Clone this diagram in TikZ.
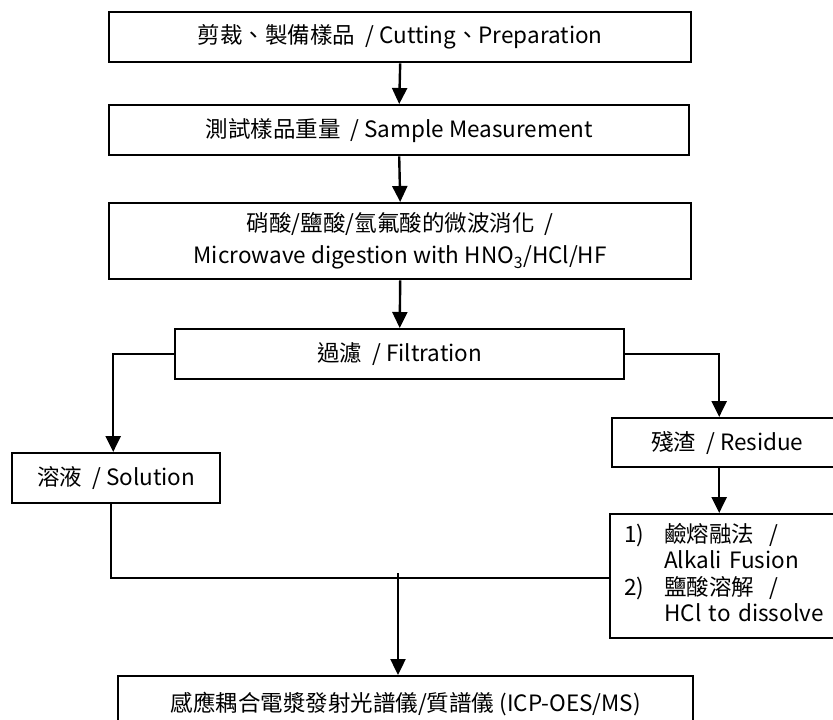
\documentclass[tikz,border=0pt]{standalone}
\usepackage{fontspec}
\setmainfont{Noto Sans CJK TC}
\usetikzlibrary{arrows.meta}
\tikzset{
    every picture/.style={
        line width=2.4pt
    },
    % Style for the process boxes
    procbox/.style={
        draw, rectangle, inner sep=0pt, anchor=north west,
        align=center, font=\fontsize{22.5}{32}\selectfont
    },
    flow arrow/.style={-{Triangle[length=16pt,width=15pt]}}
}

\begin{document}
\begin{tikzpicture}[x=1pt,y=-1pt]

% Set the canvas size
\path[use as bounding box] (0,0) rectangle (833,720);
\clip (0,0) rectangle (833,720);

% Main column of boxes
\node[procbox, minimum width=582, minimum height=50] (cut) at (108,11)
    {剪裁、製備樣品\ \ / Cutting、Preparation};
\node[procbox, minimum width=580, minimum height=50] (meas) at (108,104)
    {測試樣品重量\ \ / Sample Measurement};
\node[procbox, minimum width=582, minimum height=76] (digest) at (108,202)
    {硝酸/鹽酸/氫氟酸的微波消化\ \ /\\Microwave digestion with HNO\textsubscript{3}/HCl/HF};
\node[procbox, minimum width=449, minimum height=50] (filt) at (174,328)
    {過濾\ \ / Filtration};

% Branches after filtration
\node[procbox, minimum width=208, minimum height=50] (sol) at (11,452)
    {溶液\ \ / Solution};
\node[procbox, minimum width=240, minimum height=49] (res) at (611,417)
    {\hspace{-10pt}殘渣\ \ / Residue};
\node[procbox, minimum height=124, align=left, inner xsep=14pt,
      text width=212pt, font=\fontsize{22.5}{26.3}\selectfont] (meth) at (609,513)
    {\begin{tabular}{@{}l@{\hspace{20pt}}l@{}}
     1) & 鹼熔融法\ \ / \\
        & Alkali Fusion \\
     2) & 鹽酸溶解\ \ / \\
        & HCl to dissolve
     \end{tabular}};

% Final instrument box
\node[procbox, minimum width=575, minimum height=56] (icp) at (117,675)
    {感應耦合電漿發射光譜儀/質譜儀\ (ICP-OES/MS)};

% Draw all connectors
\draw[flow arrow] (cut.south) -- (meas.north);
\draw[flow arrow] (meas.south) -- (digest.north);
\draw[flow arrow] (digest.south) -- (filt.north);
\draw[flow arrow] (filt.west) -| ([xshift=-3pt]sol.north);
\draw[flow arrow] (filt.east) -| ([xshift=-13pt]res.north);
\draw[flow arrow] ([xshift=-13pt]res.south) -- ([xshift=-11pt]meth.north);
\draw ([xshift=-5pt]sol.south) |- ([yshift=-2pt]meth.west);
\coordinate (join) at (398,573);
\draw[flow arrow] (join) -- (join |- icp.north);

\end{tikzpicture}
\end{document}
